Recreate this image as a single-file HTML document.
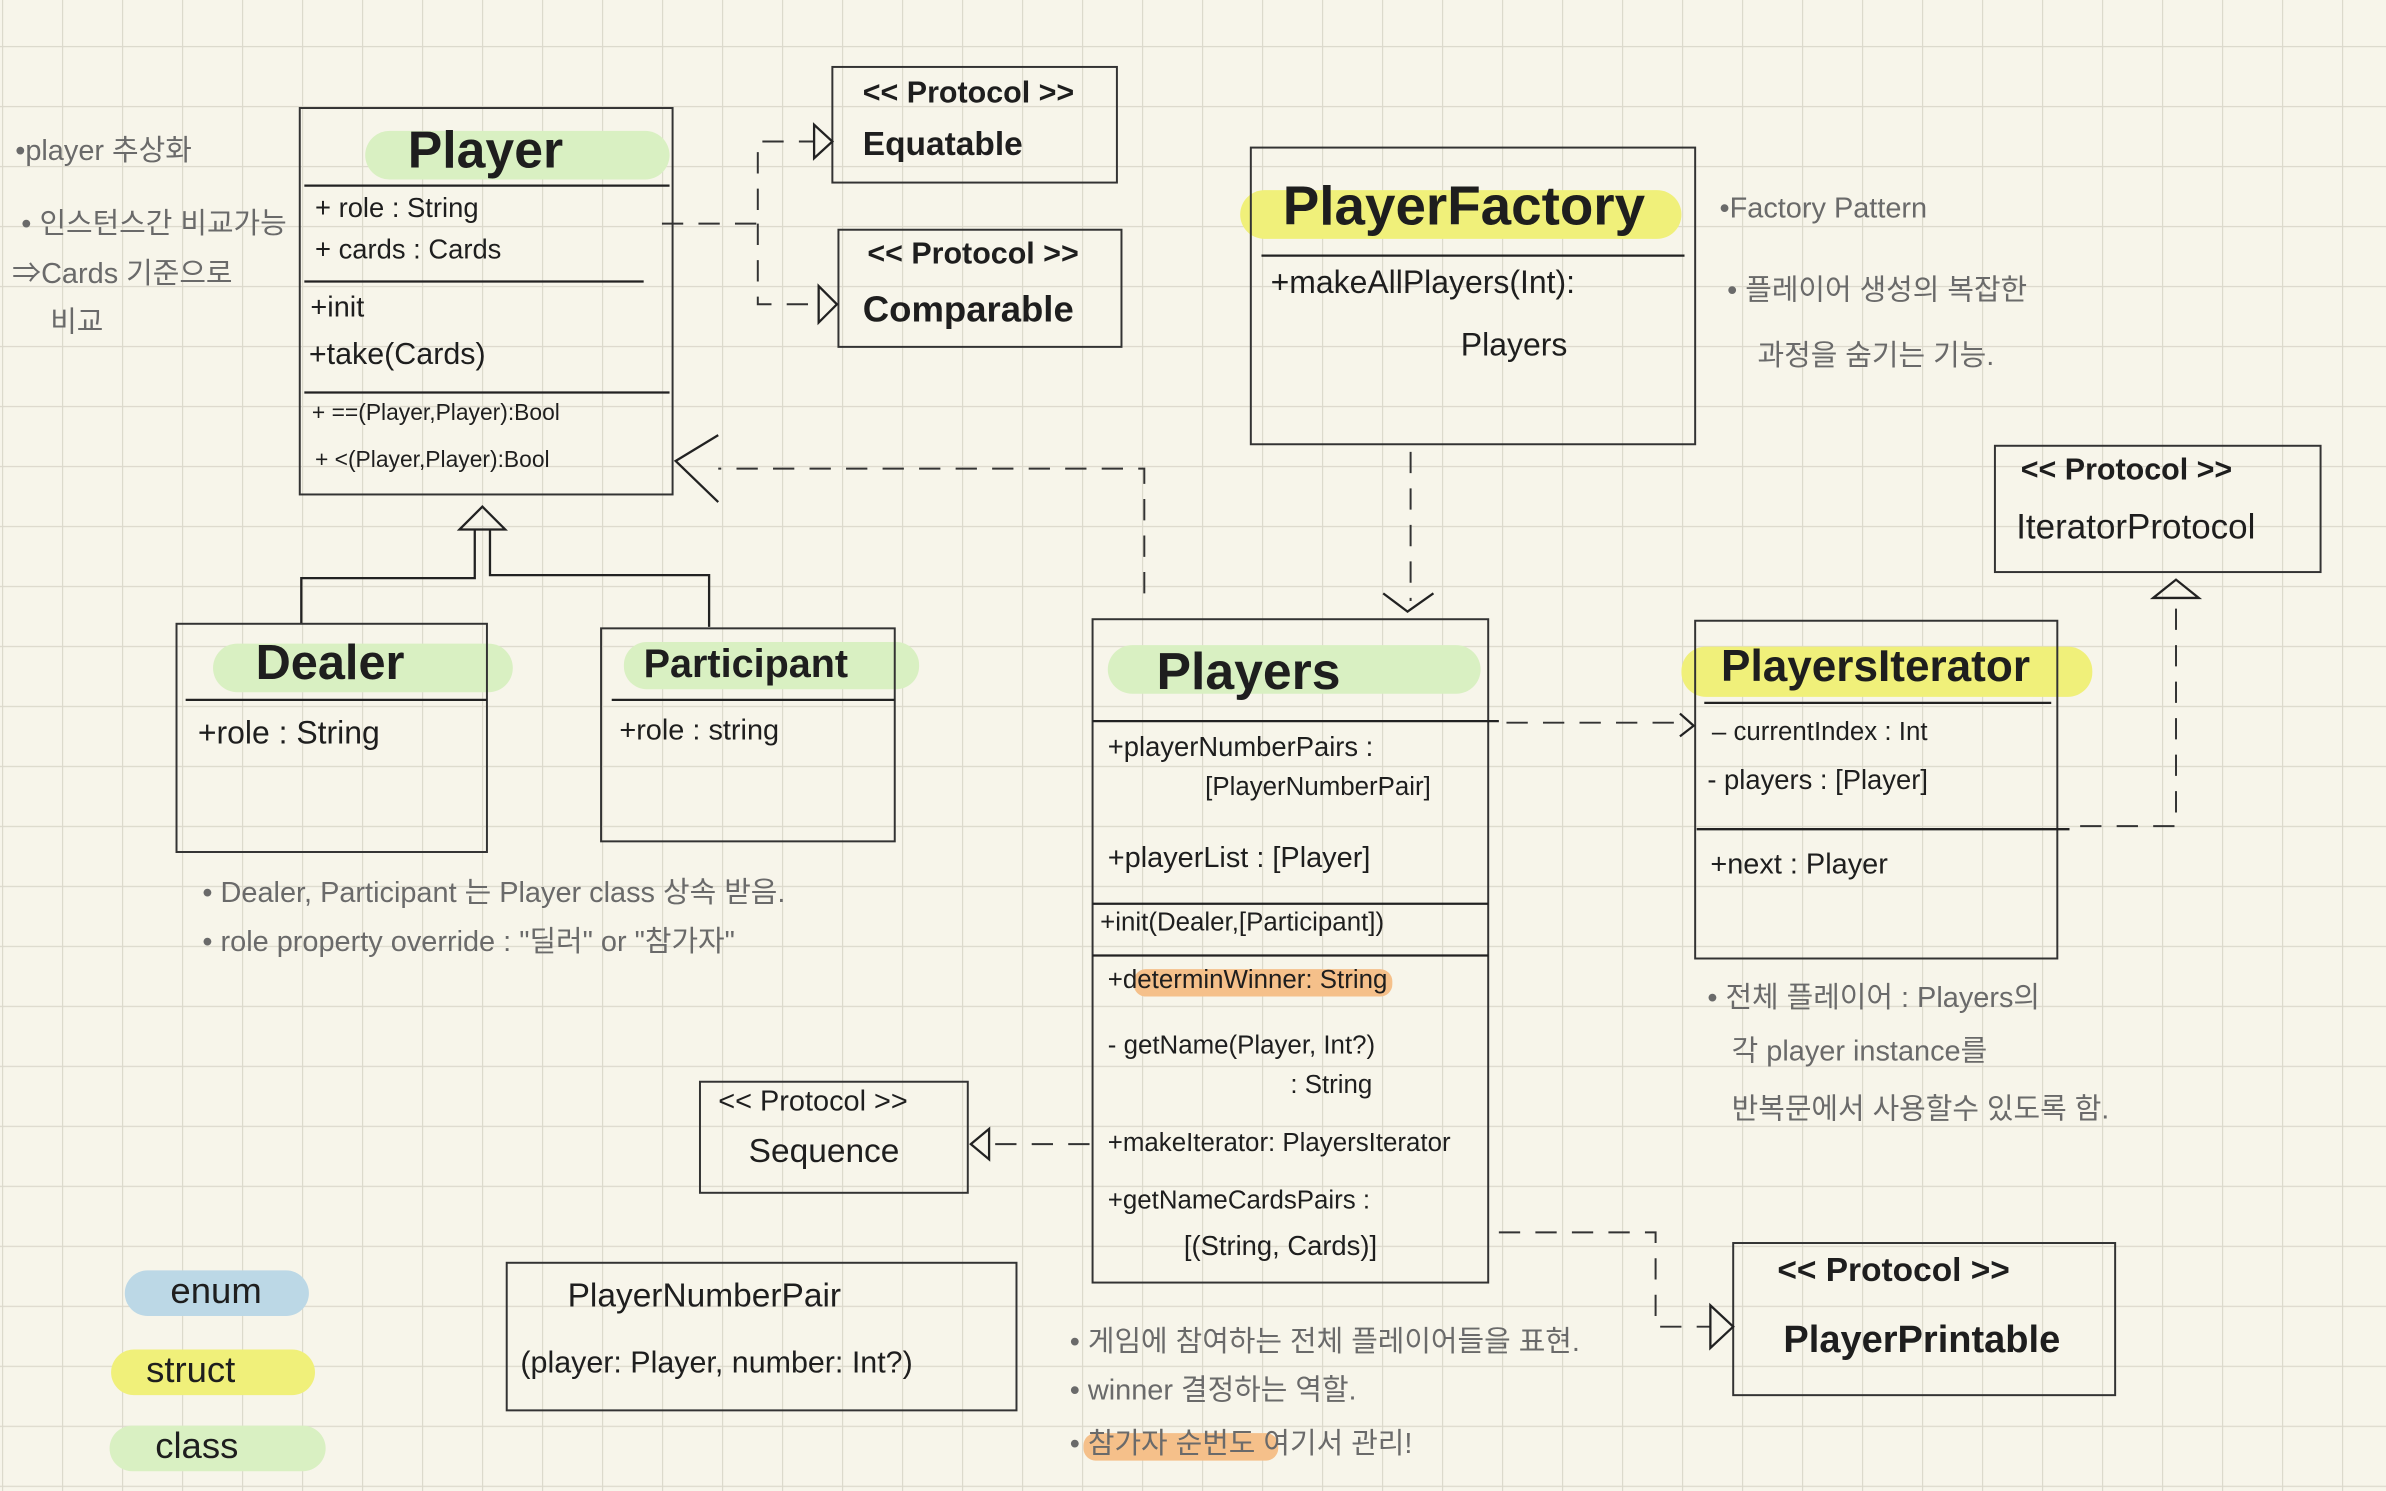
<!DOCTYPE html>
<html><head><meta charset="utf-8"><style>
html,body{margin:0;padding:0;background:#f7f5ea;}
svg{display:block}
text{font-family:"Liberation Sans","Noto Sans CJK KR",sans-serif;fill:#1e1e1e;dominant-baseline:middle}
.n{fill:#6a6a6a;font-size:19px}
.b{font-weight:bold}
.box{fill:none;stroke:#333;stroke-width:1.3}
.ln{stroke:#222;stroke-width:1.5;fill:none}
.d{stroke:#333;stroke-width:1.3;fill:none;stroke-dasharray:14 10}
</style></head><body>
<svg width="2386" height="1491" viewBox="0 0 1568 980" preserveAspectRatio="none">
<defs><pattern id="g" x="1.3" y="30.2" width="39.43" height="39.43" patternUnits="userSpaceOnUse">
<path d="M0 0H39.43M0 0V39.43" stroke="#dcd9cc" stroke-width="1.6" fill="none"/></pattern></defs>
<rect width="1568" height="980" fill="#f7f5ea"/>
<rect width="1568" height="980" fill="url(#g)"/>

<!-- highlights -->
<rect x="240" y="86" width="200" height="32" rx="16" fill="#d9f0c2"/>
<rect x="140" y="423" width="197" height="32" rx="16" fill="#d9f0c2"/>
<rect x="410" y="422" width="194" height="31" rx="15" fill="#d9f0c2"/>
<rect x="728" y="424" width="245" height="32" rx="16" fill="#d9f0c2"/>
<rect x="815" y="125" width="290" height="32" rx="16" fill="#f0f07a"/>
<rect x="1105" y="425" width="270" height="33" rx="16" fill="#f0f07a"/>
<rect x="82" y="835" width="121" height="30" rx="15" fill="#bcd8e6"/>
<rect x="73" y="887" width="134" height="30" rx="15" fill="#f0f07a"/>
<rect x="72" y="937" width="142" height="30" rx="15" fill="#d9f0c2"/>
<rect x="745" y="637" width="170" height="18" rx="8" fill="#f5c08a"/>
<rect x="712" y="942" width="128" height="18" rx="8" fill="#f5c08a"/>

<!-- Player -->
<rect class="box" x="197" y="71" width="245" height="254"/>
<text x="268" y="101" font-size="34" class="b">Player</text>
<line class="ln" x1="200" y1="122" x2="440" y2="122"/>
<text x="207" y="138" font-size="18">+ role  : String</text>
<text x="207" y="165" font-size="18">+ cards : Cards</text>
<line class="ln" x1="200" y1="185" x2="423" y2="185"/>
<text x="204" y="203" font-size="19">+init</text>
<text x="203" y="234" font-size="20">+take(Cards)</text>
<line class="ln" x1="200" y1="258" x2="440" y2="258"/>
<text x="205" y="272" font-size="15">+ ==(Player,Player):Bool</text>
<text x="207" y="303" font-size="15">+  &lt;(Player,Player):Bool</text>

<text class="n" x="10" y="100" font-size="22">•player 추상화</text>
<text class="n" x="14" y="148">• 인스턴스간 비교가능</text>
<text class="n" x="8" y="181" font-size="20">⇒Cards 기준으로</text>
<text class="n" x="33" y="213">비교</text>

<!-- Equatable / Comparable -->
<rect class="box" x="547" y="44" width="187" height="76"/>
<text x="567" y="62" font-size="20" class="b">&lt;&lt; Protocol &gt;&gt;</text>
<text x="567" y="96" font-size="22" class="b">Equatable</text>
<rect class="box" x="551" y="151" width="186" height="77"/>
<text x="570" y="168" font-size="20" class="b">&lt;&lt; Protocol &gt;&gt;</text>
<text x="567" y="205" font-size="24" class="b">Comparable</text>
<path class="d" d="M435 147H498V93H535M498 147V200H537"/>
<path class="ln" d="M535 82L547 93L535 104Z"/>
<path class="ln" d="M538 188L550 200L538 212Z"/>

<!-- generalization -->
<path class="ln" d="M302 348L317 333L332 348Z"/>
<path class="ln" d="M312 348V380H198V410M322 348V378H466V412"/>

<!-- Dealer -->
<rect class="box" x="116" y="410" width="204" height="150"/>
<text x="168" y="438" font-size="32" class="b">Dealer</text>
<line class="ln" x1="122" y1="460" x2="320" y2="460"/>
<text x="130" y="483" font-size="21">+role  :  String</text>
<!-- Participant -->
<rect class="box" x="395" y="413" width="193" height="140"/>
<text x="423" y="438" font-size="26" class="b">Participant</text>
<line class="ln" x1="402" y1="460" x2="588" y2="460"/>
<text x="407" y="481" font-size="19">+role  :  string</text>
<text class="n" x="133" y="588">• Dealer, Participant 는  Player  class  상속 받음.</text>
<text class="n" x="133" y="620">• role  property  override  :  "딜러"  or  "참가자"</text>

<!-- Factory -->
<rect class="box" x="822" y="97" width="292" height="195"/>
<text x="843" y="138" font-size="36" class="b">PlayerFactory</text>
<line class="ln" x1="829" y1="168" x2="1107" y2="168"/>
<text x="835" y="187" font-size="21">+makeAllPlayers(Int):</text>
<text x="960" y="228" font-size="21">Players</text>
<text class="n" x="1130" y="138" font-size="22">•Factory Pattern</text>
<text class="n" x="1135" y="192" font-size="21">• 플레이어 생성의 복잡한</text>
<text class="n" x="1155" y="235" font-size="21">과정을  숨기는 기능.</text>
<path class="d" d="M927 297V395"/>
<path class="ln" d="M909 390L925 402L942 390"/>

<!-- Players -->
<rect class="box" x="718" y="407" width="260" height="436"/>
<text x="760" y="444" font-size="34" class="b">Players</text>
<line class="ln" x1="718" y1="474" x2="985" y2="474"/>
<text x="728" y="492" font-size="18">+playerNumberPairs :</text>
<text x="792" y="518" font-size="17">[PlayerNumberPair]</text>
<text x="728" y="565" font-size="19">+playerList  :  [Player]</text>
<line class="ln" x1="718" y1="594" x2="978" y2="594"/>
<text x="723" y="607" font-size="17">+init(Dealer,[Participant])</text>
<line class="ln" x1="718" y1="628" x2="978" y2="628"/>
<text x="728" y="645" font-size="17">+determinWinner: String</text>
<text x="728" y="688" font-size="17">- getName(Player, Int?)</text>
<text x="848" y="714" font-size="17">: String</text>
<text x="728" y="752" font-size="17">+makeIterator: PlayersIterator</text>
<text x="728" y="790" font-size="17">+getNameCardsPairs :</text>
<text x="778" y="820" font-size="18">[(String, Cards)]</text>
<path class="d" d="M752 390V308H472"/>
<path class="ln" d="M472 286L444 303L472 330"/>

<!-- Sequence -->
<rect class="box" x="460" y="711" width="176" height="73"/>
<text x="472" y="725" font-size="19">&lt;&lt; Protocol &gt;&gt;</text>
<text x="492" y="758" font-size="22">Sequence</text>
<path class="d" d="M716 752H650"/>
<path class="ln" d="M650 742L638 752L650 762Z"/>

<!-- PlayersIterator -->
<rect class="box" x="1114" y="408" width="238" height="222"/>
<text x="1131" y="440" font-size="29" class="b">PlayersIterator</text>
<line class="ln" x1="1120" y1="462" x2="1348" y2="462"/>
<text x="1125" y="482" font-size="17">– currentIndex : Int</text>
<text x="1122" y="514" font-size="18">- players  :  [Player]</text>
<line class="ln" x1="1115" y1="545" x2="1360" y2="545"/>
<text x="1124" y="569" font-size="19">+next  :  Player</text>
<path class="d" d="M990 475H1108"/>
<path class="ln" d="M1104 469L1113 477L1104 484"/>

<rect class="box" x="1311" y="293" width="214" height="83"/>
<text x="1328" y="310" font-size="20" class="b">&lt;&lt; Protocol &gt;&gt;</text>
<text x="1325" y="348" font-size="23">IteratorProtocol</text>
<path class="ln" d="M1415 393L1430 381L1445 393Z"/>
<path class="d" d="M1430 400V543H1365"/>
<text class="n" x="1122" y="657" font-size="20">• 전체 플레이어 : Players의</text>
<text class="n" x="1138" y="692" font-size="21">각  player  instance를</text>
<text class="n" x="1138" y="730" font-size="20">반복문에서  사용할수 있도록 함.</text>

<!-- PlayerPrintable -->
<rect class="box" x="1139" y="817" width="251" height="100"/>
<text x="1168" y="836" font-size="22" class="b">&lt;&lt; Protocol &gt;&gt;</text>
<text x="1172" y="882" font-size="25" class="b">PlayerPrintable</text>
<path class="d" d="M985 810H1088V872H1124"/>
<path class="ln" d="M1124 858L1139 872L1124 886Z"/>

<!-- PlayerNumberPair -->
<rect class="box" x="333" y="830" width="335" height="97"/>
<text x="373" y="853" font-size="22">PlayerNumberPair</text>
<text x="342" y="897" font-size="20">(player: Player, number: Int?)</text>

<!-- Legend -->
<text x="112" y="850" font-size="24">enum</text>
<text x="96" y="902" font-size="24">struct</text>
<text x="102" y="952" font-size="24">class</text>

<text class="n" x="703" y="883" font-size="17">• 게임에 참여하는  전체 플레이어들을  표현.</text>
<text class="n" x="703" y="915" font-size="17">• winner  결정하는  역할.</text>
<text class="n" x="703" y="950" font-size="17">• 참가자 순번도  여기서 관리!</text>
</svg>
</body></html>
